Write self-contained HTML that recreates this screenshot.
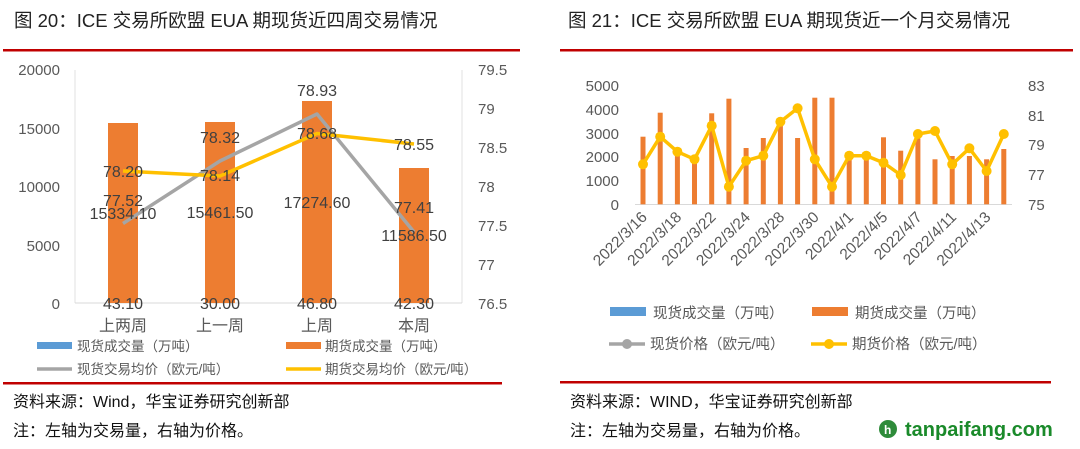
<!DOCTYPE html>
<html><head><meta charset="utf-8"><style>
html,body{margin:0;padding:0;background:#fff;}
svg{display:block;font-family:"Liberation Sans","Noto Sans CJK SC",sans-serif;}
</style></head><body>
<svg width="1080" height="449" viewBox="0 0 1080 449" xmlns="http://www.w3.org/2000/svg">
<rect width="1080" height="449" fill="#fff"/>
<text x="14" y="27" font-size="18.5" fill="#222">图 20：ICE 交易所欧盟 EUA 期现货近四周交易情况</text>
<text x="568" y="27" font-size="18.5" fill="#222">图 21：ICE 交易所欧盟 EUA 期现货近一个月交易情况</text>
<rect x="3" y="49" width="517" height="2.5" fill="#c00000"/>
<rect x="560" y="49" width="513" height="2.5" fill="#c00000"/>
<rect x="3" y="382" width="499" height="2.5" fill="#c00000"/>
<rect x="560" y="381" width="491" height="2.5" fill="#c00000"/>

<g font-size="15" fill="#595959">
<line x1="75" y1="70" x2="75" y2="303" stroke="#e0e0e0"/>
<line x1="462" y1="70" x2="462" y2="303" stroke="#e0e0e0"/>
<line x1="75" y1="303" x2="462" y2="303" stroke="#d9d9d9"/>
<g text-anchor="end">
<text x="60" y="75">20000</text><text x="60" y="134">15000</text><text x="60" y="192">10000</text><text x="60" y="251">5000</text><text x="60" y="309">0</text>
</g>
<g>
<text x="478" y="75">79.5</text><text x="478" y="114">79</text><text x="478" y="153">78.5</text><text x="478" y="192">78</text><text x="478" y="231">77.5</text><text x="478" y="270">77</text><text x="478" y="309">76.5</text>
</g>
<rect x="108" y="123" width="30" height="180" fill="#ed7d31"/>
<rect x="205" y="122" width="30" height="181" fill="#ed7d31"/>
<rect x="302" y="101" width="30" height="202" fill="#ed7d31"/>
<rect x="399" y="168" width="30" height="135" fill="#ed7d31"/>
<polyline points="123,223.5 220,161 317,114 414,232" fill="none" stroke="#a5a5a5" stroke-width="3.5" stroke-linejoin="round"/>
<polyline points="123,171 220,176 317,133.5 414,144" fill="none" stroke="#ffc000" stroke-width="3.5" stroke-linejoin="round"/>
<g text-anchor="middle" fill="#404040" font-size="16">
<text x="123" y="177">78.20</text>
<text x="123" y="206">77.52</text>
<text x="123" y="219">15334.10</text>
<text x="220" y="143">78.32</text>
<text x="220" y="181">78.14</text>
<text x="220" y="218">15461.50</text>
<text x="317" y="96">78.93</text>
<text x="317" y="139">78.68</text>
<text x="317" y="208">17274.60</text>
<text x="414" y="150">78.55</text>
<text x="414" y="213">77.41</text>
<text x="414" y="241">11586.50</text>
<text x="123" y="309">43.10</text><text x="220" y="309">30.00</text><text x="317" y="309">46.80</text><text x="414" y="309">42.30</text>
</g>
<g text-anchor="middle" font-size="16">
<text x="123" y="331">上两周</text><text x="220" y="331">上一周</text><text x="317" y="331">上周</text><text x="414" y="331">本周</text>
</g>
<rect x="37" y="342" width="35" height="7" fill="#5b9bd5"/>
<text x="77" y="351" font-size="13.5">现货成交量（万吨）</text>
<rect x="286" y="342" width="35" height="7" fill="#ed7d31"/>
<text x="325" y="351" font-size="13.5">期货成交量（万吨）</text>
<line x1="37" y1="369" x2="72" y2="369" stroke="#a5a5a5" stroke-width="3.5"/>
<text x="77" y="374" font-size="13.5">现货交易均价（欧元/吨）</text>
<line x1="286" y1="369" x2="321" y2="369" stroke="#ffc000" stroke-width="3.5"/>
<text x="325" y="374" font-size="13.5">期货交易均价（欧元/吨）</text>
</g>

<g font-size="15" fill="#595959">
<line x1="635" y1="204.5" x2="1012" y2="204.5" stroke="#d9d9d9"/>
<g text-anchor="end">
<text x="619" y="91">5000</text><text x="619" y="115">4000</text><text x="619" y="139">3000</text><text x="619" y="162">2000</text><text x="619" y="186">1000</text><text x="619" y="210">0</text>
</g>
<g>
<text x="1028" y="91">83</text><text x="1028" y="121">81</text><text x="1028" y="150">79</text><text x="1028" y="180">77</text><text x="1028" y="210">75</text>
</g>
<g fill="#ed7d31">
<rect x="640.5" y="136.7" width="5" height="67.6"/>
<rect x="657.7" y="112.7" width="5" height="91.6"/>
<rect x="674.9" y="148.3" width="5" height="56"/>
<rect x="692" y="156.7" width="5" height="47.6"/>
<rect x="709.2" y="113.3" width="5" height="91"/>
<rect x="726.4" y="98.7" width="5" height="105.6"/>
<rect x="743.6" y="148" width="5" height="56.3"/>
<rect x="760.8" y="138" width="5" height="66.3"/>
<rect x="777.9" y="125" width="5" height="79.3"/>
<rect x="795.1" y="138" width="5" height="66.3"/>
<rect x="812.3" y="97.7" width="5" height="106.6"/>
<rect x="829.5" y="97.7" width="5" height="106.6"/>
<rect x="846.7" y="155" width="5" height="49.3"/>
<rect x="863.8" y="155" width="5" height="49.3"/>
<rect x="881" y="137.3" width="5" height="67"/>
<rect x="898.2" y="150.7" width="5" height="53.6"/>
<rect x="915.4" y="138.3" width="5" height="66"/>
<rect x="932.5" y="159.3" width="5" height="45"/>
<rect x="949.7" y="156" width="5" height="48.3"/>
<rect x="966.9" y="156" width="5" height="48.3"/>
<rect x="984.1" y="159.3" width="5" height="45"/>
<rect x="1001.3" y="149" width="5" height="55.3"/>
</g>
<polyline fill="none" stroke="#ffc000" stroke-width="3.5" stroke-linejoin="round" points="643,164.3 660.2,136.7 677.4,151.7 694.5,159.3 711.7,125.7 728.9,186.7 746.1,160.7 763.3,155.7 780.4,121.7 797.6,108.3 814.8,159.3 832,186.7 849.2,155.7 866.3,155.7 883.5,162.7 900.7,175 917.9,134 935,131 952.2,164.3 969.4,148.3 986.6,171 1003.8,134"/>
<g fill="#ffc000">
<circle cx="643" cy="164.3" r="5"/><circle cx="660.2" cy="136.7" r="5"/><circle cx="677.4" cy="151.7" r="5"/><circle cx="694.5" cy="159.3" r="5"/><circle cx="711.7" cy="125.7" r="5"/><circle cx="728.9" cy="186.7" r="5"/><circle cx="746.1" cy="160.7" r="5"/><circle cx="763.3" cy="155.7" r="5"/><circle cx="780.4" cy="121.7" r="5"/><circle cx="797.6" cy="108.3" r="5"/><circle cx="814.8" cy="159.3" r="5"/><circle cx="832" cy="186.7" r="5"/><circle cx="849.2" cy="155.7" r="5"/><circle cx="866.3" cy="155.7" r="5"/><circle cx="883.5" cy="162.7" r="5"/><circle cx="900.7" cy="175" r="5"/><circle cx="917.9" cy="134" r="5"/><circle cx="935" cy="131" r="5"/><circle cx="952.2" cy="164.3" r="5"/><circle cx="969.4" cy="148.3" r="5"/><circle cx="986.6" cy="171" r="5"/><circle cx="1003.8" cy="134" r="5"/>
</g>
<g font-size="15.5" text-anchor="end">
<text transform="translate(648,218) rotate(-45)">2022/3/16</text>
<text transform="translate(682.4,218) rotate(-45)">2022/3/18</text>
<text transform="translate(716.7,218) rotate(-45)">2022/3/22</text>
<text transform="translate(751.1,218) rotate(-45)">2022/3/24</text>
<text transform="translate(785.4,218) rotate(-45)">2022/3/28</text>
<text transform="translate(819.8,218) rotate(-45)">2022/3/30</text>
<text transform="translate(854.2,218) rotate(-45)">2022/4/1</text>
<text transform="translate(888.5,218) rotate(-45)">2022/4/5</text>
<text transform="translate(922.9,218) rotate(-45)">2022/4/7</text>
<text transform="translate(957.2,218) rotate(-45)">2022/4/11</text>
<text transform="translate(991.6,218) rotate(-45)">2022/4/13</text>
</g>
<rect x="610" y="307" width="36" height="9" fill="#5b9bd5"/>
<text x="653" y="318" font-size="14.5">现货成交量（万吨）</text>
<rect x="812" y="307" width="36" height="9" fill="#ed7d31"/>
<text x="855" y="318" font-size="14.5">期货成交量（万吨）</text>
<line x1="609" y1="344" x2="645" y2="344" stroke="#a5a5a5" stroke-width="3.5"/>
<circle cx="627" cy="344" r="5" fill="#a5a5a5"/>
<text x="650" y="349" font-size="14.5">现货价格（欧元/吨）</text>
<line x1="811" y1="344" x2="847" y2="344" stroke="#ffc000" stroke-width="3.5"/>
<circle cx="829" cy="344" r="5" fill="#ffc000"/>
<text x="852" y="349" font-size="14.5">期货价格（欧元/吨）</text>
</g>

<g font-size="16" fill="#111">
<text x="13" y="407">资料来源：Wind，华宝证券研究创新部</text>
<text x="13" y="436">注：左轴为交易量，右轴为价格。</text>
<text x="570" y="407">资料来源：WIND，华宝证券研究创新部</text>
<text x="570" y="436">注：左轴为交易量，右轴为价格。</text>
</g>
<circle cx="888" cy="429" r="9" fill="#2e8b3a"/>
<text x="884" y="434" font-size="12" font-weight="bold" fill="#fff">h</text>
<text x="905" y="436" font-size="20" font-weight="bold" fill="#1a8a2a">tanpaifang.com</text>
</svg>
</body></html>
